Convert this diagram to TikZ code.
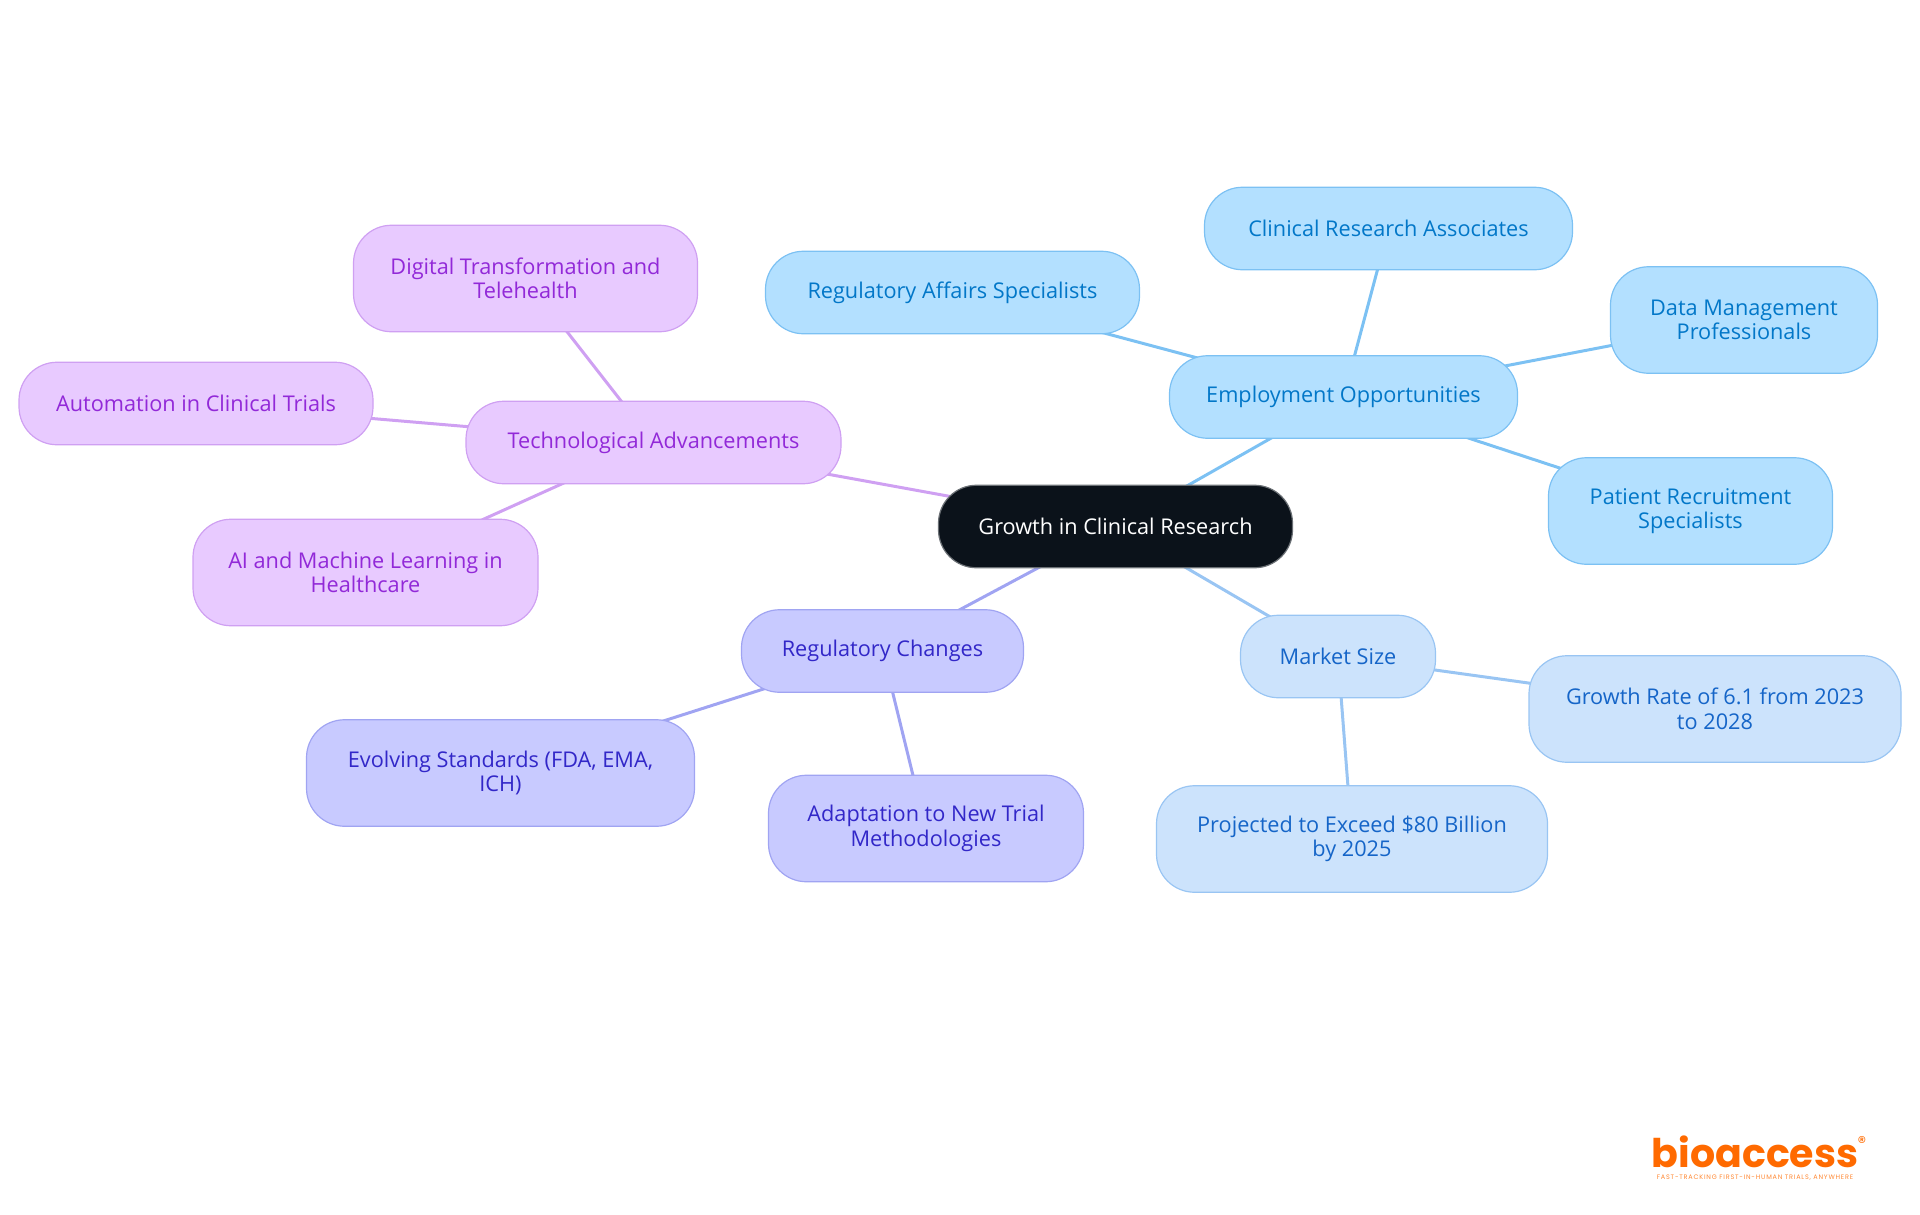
\documentclass[tikz,border=0pt]{standalone}
\usepackage{fontspec}
\setmainfont{Open Sans}
\newfontfamily\logofont{Poppins}
\newfontfamily\tagfont[LetterSpace=12]{Poppins}
\usepackage{xcolor}
\usetikzlibrary{backgrounds}
\definecolor{rootfill}{HTML}{0B121A}
\definecolor{rootdraw}{HTML}{6B7075}
\definecolor{jobfill}{HTML}{B3E0FF}
\definecolor{jobdraw}{HTML}{7CC1F3}
\definecolor{jobtext}{HTML}{0277C8}
\definecolor{marketfill}{HTML}{CCE3FC}
\definecolor{marketdraw}{HTML}{99C5F3}
\definecolor{markettext}{HTML}{1565C8}
\definecolor{regfill}{HTML}{C8CAFF}
\definecolor{regdraw}{HTML}{A0A4F2}
\definecolor{regtext}{HTML}{3227C8}
\definecolor{techfill}{HTML}{E8CAFF}
\definecolor{techdraw}{HTML}{CFA0F2}
\definecolor{techtext}{HTML}{9229D8}
\definecolor{logo}{HTML}{FF6A00}
\tikzset{
  box/.style={rounded corners=38pt, line width=1.2pt, inner sep=0pt, align=center, font=\fontsize{21.7}{24.5}\selectfont},
  rootbox/.style={box, fill=rootfill, draw=rootdraw, text=white, minimum width=354pt, minimum height=82.5pt},
  job/.style={box, fill=jobfill, draw=jobdraw, text=jobtext},
  market/.style={box, fill=marketfill, draw=marketdraw, text=markettext},
  reg/.style={box, fill=regfill, draw=regdraw, text=regtext},
  tech/.style={box, fill=techfill, draw=techdraw, text=techtext},
  link/.style={line width=3pt},
}
\begin{document}
\begin{tikzpicture}[x=1pt,y=-1pt]
  \useasboundingbox (0,0) rectangle (1920,1215);
  \node[rootbox] (root) at (1115.5,526.5) {Growth in Clinical Research};
  % employment
  \node[job,minimum width=348pt,minimum height=82.5pt] (jobs) at (1343.5,397) {Employment Opportunities};
  \node[job,minimum width=374pt,minimum height=82.5pt] (affairs) at (952.5,292.5) {Regulatory Affairs Specialists};
  \node[job,minimum width=368pt,minimum height=82.5pt] (cra) at (1388.5,228.5) {Clinical Research Associates};
  \node[job,minimum width=267pt,minimum height=106.5pt] (data) at (1744,320) {Data Management\\Professionals};
  \node[job,minimum width=284pt,minimum height=106.5pt] (patient) at (1690.5,511) {Patient Recruitment\\Specialists};
  % market
  \node[market,minimum width=195pt,minimum height=82.5pt] (size) at (1338,656.5) {Market Size};
  \node[market,minimum width=372pt,minimum height=106.5pt] (rate) at (1715,709) {Growth Rate of 6.1 from 2023\\to 2028};
  \node[market,minimum width=391pt,minimum height=106.5pt] (exceed) at (1352,839) {Projected to Exceed \$80 Billion\\by 2025};
  % regulation
  \node[reg,minimum width=282pt,minimum height=82.5pt] (changes) at (882.5,651) {Regulatory Changes};
  \node[reg,minimum width=388pt,minimum height=106.5pt] (standards) at (500.5,773) {Evolving Standards (FDA, EMA,\\ICH)};
  \node[reg,minimum width=315pt,minimum height=106.5pt] (trial) at (926,828.5) {Adaptation to New Trial\\Methodologies};
  % technology
  \node[tech,minimum width=375pt,minimum height=82.5pt] (techadv) at (653.5,442.5) {Technological Advancements};
  \node[tech,minimum width=344pt,minimum height=106.5pt] (digital) at (525.5,278.5) {Digital Transformation and\\Telehealth};
  \node[tech,minimum width=354pt,minimum height=82.5pt] (auto) at (196,403.5) {Automation in Clinical Trials};
  \node[tech,minimum width=345pt,minimum height=106.5pt] (ai) at (365.5,572.5) {AI and Machine Learning in\\Healthcare};
  % logo
  \node[inner sep=0pt, text=logo, font=\logofont\bfseries\fontsize{39.5}{40}\selectfont] (brand) at (1755,1152) {bioaccess};
  \node[inner sep=0pt, text=logo!80, font=\tagfont\fontsize{6.5}{7}\selectfont] (tagline) at (1755,1178) {FAST-TRACKING FIRST-IN-HUMAN TRIALS, ANYWHERE};
  \node[inner sep=0pt, text=logo, font=\logofont\fontsize{17}{17}\selectfont] (mark) at (1862,1142) {®};
  \begin{scope}[on background layer]
    \foreach \A/\B in {root/jobs,jobs/affairs,jobs/cra,jobs/data,jobs/patient}
      \draw[link,draw=jobdraw] (\A.center) -- (\B.center);
    \foreach \A/\B in {root/size,size/rate,size/exceed}
      \draw[link,draw=marketdraw] (\A.center) -- (\B.center);
    \foreach \A/\B in {root/changes,changes/standards,changes/trial}
      \draw[link,draw=regdraw] (\A.center) -- (\B.center);
    \foreach \A/\B in {root/techadv,techadv/digital,techadv/auto,techadv/ai}
      \draw[link,draw=techdraw] (\A.center) -- (\B.center);
  \end{scope}
\end{tikzpicture}
\end{document}
